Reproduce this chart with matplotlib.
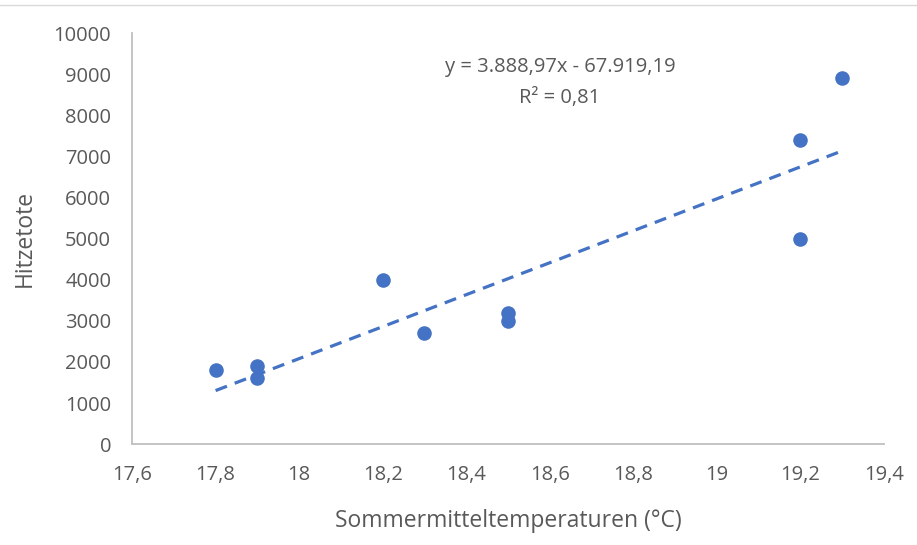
import numpy as np
import matplotlib.pyplot as plt
from matplotlib.lines import Line2D

# Data
temps = [17.8, 17.9, 17.9, 18.2, 18.3, 18.5, 18.5, 19.2, 19.2, 19.3]
deaths = [1800, 1900, 1600, 4000, 2700, 3200, 3000, 7400, 5000, 8900]
x_ticks = [17.6, 17.8, 18.0, 18.2, 18.4, 18.6, 18.8, 19.0, 19.2, 19.4]
x_tick_labels = ['17,6', '17,8', '18', '18,2', '18,4', '18,6', '18,8', '19', '19,2', '19,4']
y_ticks = [0, 1000, 2000, 3000, 4000, 5000, 6000, 7000, 8000, 9000, 10000]

# Trendline as given in the chart
slope = 3888.97
intercept = -67919.19
eq_label = 'y = 3.888,97x - 67.919,19'
r2_label = 'R² = 0,81'

plt.rcParams['font.family'] = ['Open Sans', 'DejaVu Sans']
grey = '#595959'
blue = '#4472C4'

fig = plt.figure(figsize=(9.17, 5.45), dpi=100)
ax = fig.add_axes([0.144, 0.185, 0.82, 0.754])

ax.scatter(temps, deaths, s=110, color=blue, zorder=3, linewidths=0)

tx = np.array([min(temps), max(temps)])
ax.plot(tx, slope * tx + intercept, color=blue, lw=2.3, dashes=(3.8, 2.6), zorder=2)

ax.text(18.624, 9170, eq_label, ha='center', va='center', fontsize=14.5, color=grey)
ax.text(18.624, 8420, r2_label, ha='center', va='center', fontsize=14.5, color=grey)

ax.set_xlim(17.6, 19.4)
ax.set_ylim(0, 10000)
ax.set_xticks(x_ticks)
ax.set_xticklabels(x_tick_labels)
ax.set_yticks(y_ticks)
ax.tick_params(length=0, labelsize=14.5, colors=grey)
ax.tick_params(axis='y', pad=15)
ax.tick_params(axis='x', pad=15)
for s in ['top', 'right']:
    ax.spines[s].set_visible(False)
for s in ['left', 'bottom']:
    ax.spines[s].set_color('#BFBFBF')
    ax.spines[s].set_linewidth(1.3)

ax.set_xlabel('Sommermitteltemperaturen (°C)', fontsize=16.5, color=grey, labelpad=17)
ax.set_ylabel('Hitzetote', fontsize=16.5, color=grey, labelpad=12)

# chart border line at top
fig.add_artist(Line2D([0, 1], [0.99, 0.99], color='#D9D9D9', lw=1, transform=fig.transFigure))

fig.savefig('out.png', dpi=100)
